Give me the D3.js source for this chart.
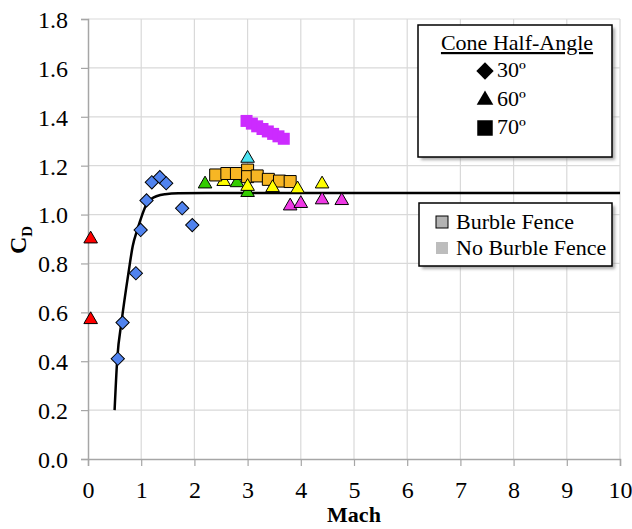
<!DOCTYPE html>
<html>
<head>
<meta charset="utf-8">
<script src="https://cdn.jsdelivr.net/npm/d3@7"></script>
<style>
  body { margin: 0; background: #fff; }
  text { font-family: "Liberation Serif", "Times New Roman", serif; }
</style>
</head>
<body>
<div id="chart"></div>
<script>
// Data: [Mach, Cd]
const machTicks = [0, 1, 2, 3, 4, 5, 6, 7, 8, 9, 10];
const cdTicks = [0, 0.2, 0.4, 0.6, 0.8, 1.0, 1.2, 1.4, 1.6, 1.8];

const fitCurve = [[0.5, 0.2], [0.55, 0.41], [0.63, 0.56], [0.76, 0.76], [0.84, 0.87],
  [0.93, 0.94], [1.02, 1.0], [1.11, 1.047], [1.2, 1.066], [1.3, 1.076], [1.45, 1.083],
  [1.7, 1.087], [2.5, 1.088], [10, 1.088]];

const cone30 = [[0.56, 0.41], [0.65, 0.558], [0.9, 0.76], [0.99, 0.937], [1.1, 1.058],
  [1.2, 1.132], [1.35, 1.153], [1.47, 1.128], [1.77, 1.026], [1.96, 0.957]];

const cone60Red = [[0.05, 0.9], [0.05, 0.57]];
const cone60Green = [[2.2, 1.125], [2.8, 1.13], [3.0, 1.09]];
const cone60YellowLow = [[2.55, 1.135]];
const cone70Fence = [[2.4, 1.162], [2.61, 1.168], [2.79, 1.168], [3.0, 1.182], [3.0, 1.155],
  [3.18, 1.158], [3.39, 1.144], [3.6, 1.137], [3.8, 1.135]];
const cone60Yellow = [[3.0, 1.115], [3.47, 1.11], [3.94, 1.105], [4.4, 1.125]];
const cone60Cyan = [[3.0, 1.23]];
const cone60Magenta = [[3.8, 1.035], [4.0, 1.045], [4.4, 1.06], [4.77, 1.057]];
const cone70NoFence = [[2.98, 1.383], [3.08, 1.372], [3.18, 1.361], [3.28, 1.35],
  [3.38, 1.34], [3.48, 1.33], [3.58, 1.32], [3.68, 1.31]];

const width = 632, height = 529;
const margin = { top: 19, right: 12, bottom: 70, left: 88 };

const svg = d3.select("#chart").append("svg")
  .attr("width", width)
  .attr("height", height);

const x = d3.scaleLinear().domain([0, 10]).range([margin.left, width - margin.right]);
const y = d3.scaleLinear().domain([0, 1.8]).range([height - margin.bottom, margin.top]);

// gridlines
svg.append("g").selectAll("line.v")
  .data(machTicks.slice(1))
  .enter().append("line")
  .attr("x1", d => x(d)).attr("x2", d => x(d))
  .attr("y1", y(0)).attr("y2", y(1.8))
  .attr("stroke", "#d9d9d9").attr("stroke-width", 1.2);

svg.append("g").selectAll("line.h")
  .data(cdTicks.slice(1))
  .enter().append("line")
  .attr("x1", x(0)).attr("x2", x(10))
  .attr("y1", d => y(d)).attr("y2", d => y(d))
  .attr("stroke", "#d9d9d9").attr("stroke-width", 1.2);

// axes
const xAxis = svg.append("g")
  .attr("transform", `translate(0,${y(0)})`)
  .call(d3.axisBottom(x).tickValues(machTicks).tickFormat(d3.format("d")).tickSize(7).tickPadding(15));
const yAxis = svg.append("g")
  .attr("transform", `translate(${x(0)},0)`)
  .call(d3.axisLeft(y).tickValues(cdTicks).tickFormat(d3.format(".1f")).tickSize(7).tickPadding(13));

[xAxis, yAxis].forEach(a => {
  a.select(".domain").attr("stroke", "#a6a6a6").attr("stroke-width", 1.5);
  a.selectAll(".tick line").attr("stroke", "#a6a6a6").attr("stroke-width", 1.2);
  a.selectAll(".tick text")
    .attr("font-family", "Liberation Serif, serif")
    .attr("font-size", 24)
    .attr("fill", "#000");
});
yAxis.selectAll(".tick text").attr("dy", "0.35em");

// axis titles
svg.append("text")
  .attr("x", (x(0) + x(10)) / 2)
  .attr("y", 522)
  .attr("text-anchor", "middle")
  .attr("font-size", 22)
  .attr("font-weight", "bold")
  .text("Mach");

const yTitle = svg.append("text")
  .attr("transform", "translate(26,240) rotate(-90)")
  .attr("text-anchor", "middle")
  .attr("font-size", 24)
  .attr("font-weight", "bold");
yTitle.append("tspan").text("C");
yTitle.append("tspan").attr("font-size", 15).attr("dy", 6).text("D");

// fit curve
const line = d3.line()
  .x(d => x(d[0]))
  .y(d => y(d[1]))
  .curve(d3.curveMonotoneX);

svg.append("path")
  .datum(fitCurve)
  .attr("d", line)
  .attr("fill", "none")
  .attr("stroke", "#000")
  .attr("stroke-width", 2.5);

// markers
const tri = d3.symbol().type(d3.symbolTriangle).size(80)();
const sq = d3.symbol().type(d3.symbolSquare).size(144)();
const dia = d3.symbol().type(d3.symbolSquare).size(88)();

function drawSeries(data, path, fill, stroke, rotate) {
  svg.append("g").selectAll("path")
    .data(data)
    .enter().append("path")
    .attr("d", path)
    .attr("transform", d => `translate(${x(d[0])},${y(d[1])})` + (rotate ? " rotate(45)" : ""))
    .attr("fill", fill)
    .attr("stroke", stroke)
    .attr("stroke-width", stroke === "none" ? 0 : 1);
}

drawSeries(cone30, dia, "#5083ef", "#000", true);
drawSeries(cone60Red, tri, "#ff0000", "#000");
drawSeries(cone60Green, tri, "#33cc00", "#000");
drawSeries(cone60YellowLow, tri, "#ffff00", "#000");
drawSeries(cone70Fence, sq, "#f7b624", "#000");
drawSeries(cone60Yellow, tri, "#ffff00", "#000");
drawSeries(cone60Cyan, tri, "#4de3f2", "#000");
drawSeries(cone60Magenta, tri, "#ee38e4", "#000");
drawSeries(cone70NoFence, sq, "#cc2bff", "none");

// legends
const defs = svg.append("defs");
defs.append("filter").attr("id", "shadow")
  .append("feGaussianBlur").attr("stdDeviation", 1.5);

function legendBox(bx, by, bw, bh) {
  svg.append("rect")
    .attr("x", bx + 3).attr("y", by + 3)
    .attr("width", bw).attr("height", bh)
    .attr("fill", "#888").attr("opacity", 0.7)
    .attr("filter", "url(#shadow)");
  svg.append("rect")
    .attr("x", bx).attr("y", by)
    .attr("width", bw).attr("height", bh)
    .attr("fill", "#fff").attr("stroke", "#000").attr("stroke-width", 1.5);
}

legendBox(418, 25, 194, 132);
svg.append("text")
  .attr("x", 517).attr("y", 50)
  .attr("text-anchor", "middle")
  .attr("font-size", 22)
  .attr("text-decoration", "underline")
  .text("Cone Half-Angle");

const coneLegend = [
  { label: "30º", path: d3.symbol().type(d3.symbolSquare).size(150)(), rot: true, cy: 71 },
  { label: "60º", path: d3.symbol().type(d3.symbolTriangle).size(120)(), rot: false, cy: 100 },
  { label: "70º", path: d3.symbol().type(d3.symbolSquare).size(240)(), rot: false, cy: 128 }
];
coneLegend.forEach(d => {
  svg.append("path")
    .attr("d", d.path)
    .attr("transform", `translate(485,${d.cy})` + (d.rot ? " rotate(45)" : ""))
    .attr("fill", "#000");
  svg.append("text")
    .attr("x", 497).attr("y", d.cy + 6)
    .attr("font-size", 22)
    .text(d.label);
});

legendBox(419, 203, 193, 63);
const fenceLegend = [
  { label: "Burble Fence", stroke: "#000", fill: "#b3b3b3", cy: 222 },
  { label: "No Burble Fence", stroke: "none", fill: "#bdbdbd", cy: 248 }
];
fenceLegend.forEach(d => {
  svg.append("rect")
    .attr("x", 436).attr("y", d.cy - 6)
    .attr("width", 12).attr("height", 12)
    .attr("fill", d.fill)
    .attr("stroke", d.stroke)
    .attr("stroke-width", 1);
  svg.append("text")
    .attr("x", 456).attr("y", d.cy + 7)
    .attr("font-size", 22)
    .text(d.label);
});
</script>
</body>
</html>
